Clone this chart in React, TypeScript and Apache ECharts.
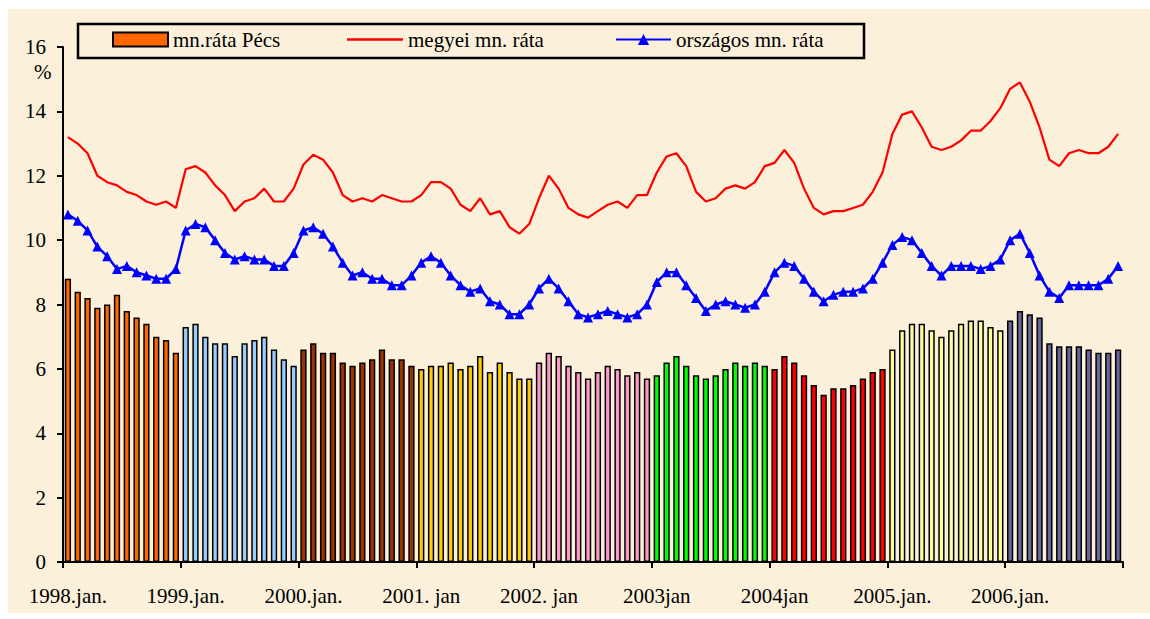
import React, { useEffect, useRef } from "react";
import * as echarts from "echarts";

const years = [1998, 1999, 2000, 2001, 2002, 2003, 2004, 2005, 2006];
const monthNames = ["jan", "febr", "márc", "ápr", "máj", "jún", "júl", "aug", "szept", "okt", "nov", "dec"];
const categories = years.flatMap((y) => monthNames.map((m) => `${y}.${m}`));

const yearTickLabels = [
  "1998.jan.", "1999.jan.", "2000.jan.", "2001. jan", "2002. jan",
  "2003jan", "2004jan", "2005.jan.", "2006.jan.",
];

const yearColors = [
  "#FF6600", "#99CCFF", "#993300", "#FFCC00", "#FF99CC",
  "#00FF00", "#FF0000", "#FFFF99", "#666699",
];

// mn.ráta Pécs
const pecs = [
  8.8, 8.4, 8.2, 7.9, 8.0, 8.3, 7.8, 7.6, 7.4, 7.0, 6.9, 6.5,
  7.3, 7.4, 7.0, 6.8, 6.8, 6.4, 6.8, 6.9, 7.0, 6.6, 6.3, 6.1,
  6.6, 6.8, 6.5, 6.5, 6.2, 6.1, 6.2, 6.3, 6.6, 6.3, 6.3, 6.1,
  6.0, 6.1, 6.1, 6.2, 6.0, 6.1, 6.4, 5.9, 6.2, 5.9, 5.7, 5.7,
  6.2, 6.5, 6.4, 6.1, 5.9, 5.7, 5.9, 6.1, 6.0, 5.8, 5.9, 5.7,
  5.8, 6.2, 6.4, 6.1, 5.8, 5.7, 5.8, 6.0, 6.2, 6.1, 6.2, 6.1,
  6.0, 6.4, 6.2, 5.8, 5.5, 5.2, 5.4, 5.4, 5.5, 5.7, 5.9, 6.0,
  6.6, 7.2, 7.4, 7.4, 7.2, 7.0, 7.2, 7.4, 7.5, 7.5, 7.3, 7.2,
  7.5, 7.8, 7.7, 7.6, 6.8, 6.7, 6.7, 6.7, 6.6, 6.5, 6.5, 6.6,
];

// megyei mn. ráta
const megyei = [
  13.2, 13.0, 12.7, 12.0, 11.8, 11.7, 11.5, 11.4, 11.2, 11.1, 11.2, 11.0,
  12.2, 12.3, 12.1, 11.7, 11.4, 10.9, 11.2, 11.3, 11.6, 11.2, 11.2, 11.6,
  12.35, 12.65, 12.5, 12.1, 11.4, 11.2, 11.3, 11.2, 11.4, 11.3, 11.2, 11.2,
  11.4, 11.8, 11.8, 11.6, 11.1, 10.9, 11.3, 10.8, 10.9, 10.4, 10.2, 10.5,
  11.3, 12.0, 11.6, 11.0, 10.8, 10.7, 10.9, 11.1, 11.2, 11.0, 11.4, 11.4,
  12.1, 12.6, 12.7, 12.3, 11.5, 11.2, 11.3, 11.6, 11.7, 11.6, 11.8, 12.3,
  12.4, 12.8, 12.4, 11.6, 11.0, 10.8, 10.9, 10.9, 11.0, 11.1, 11.5, 12.1,
  13.3, 13.9, 14.0, 13.5, 12.9, 12.8, 12.9, 13.1, 13.4, 13.4, 13.7, 14.1,
  14.7, 14.9, 14.3, 13.5, 12.5, 12.3, 12.7, 12.8, 12.7, 12.7, 12.9, 13.3,
];

// országos mn. ráta
const orszagos = [
  10.8, 10.6, 10.3, 9.8, 9.5, 9.1, 9.2, 9.0, 8.9, 8.8, 8.8, 9.1,
  10.3, 10.5, 10.4, 10.0, 9.6, 9.4, 9.5, 9.4, 9.4, 9.2, 9.2, 9.6,
  10.3, 10.4, 10.2, 9.8, 9.3, 8.9, 9.0, 8.8, 8.8, 8.6, 8.6, 8.9,
  9.3, 9.5, 9.3, 8.9, 8.6, 8.4, 8.5, 8.1, 8.0, 7.7, 7.7, 8.0,
  8.5, 8.8, 8.5, 8.1, 7.7, 7.6, 7.7, 7.8, 7.7, 7.6, 7.7, 8.0,
  8.7, 9.0, 9.0, 8.6, 8.2, 7.8, 8.0, 8.1, 8.0, 7.9, 8.0, 8.4,
  9.0, 9.3, 9.2, 8.8, 8.4, 8.1, 8.3, 8.4, 8.4, 8.5, 8.8, 9.3,
  9.85, 10.1, 10.0, 9.6, 9.2, 8.9, 9.2, 9.2, 9.2, 9.1, 9.2, 9.4,
  10.0, 10.2, 9.6, 8.9, 8.4, 8.2, 8.6, 8.6, 8.6, 8.6, 8.8, 9.2,
];

const seriesNames = ["mn.ráta Pécs", "megyei mn. ráta", "országos mn. ráta"];

const FONT = "Liberation Serif, Times New Roman, serif";

export default function App() {
  const ref = useRef<HTMLDivElement>(null);

  useEffect(() => {
    document.body.style.margin = "0";
    if (!ref.current) return;
    const chart = echarts.init(ref.current, null, { renderer: "svg" });
    const legendText = { fontFamily: FONT, fontSize: 21, color: "#000" };
    chart.setOption({
      animation: false,
      backgroundColor: "#ffffff",
      textStyle: { fontFamily: FONT },
      graphic: [
        {
          type: "rect",
          z: -10,
          shape: { x: 8, y: 9, width: 1142, height: 604 },
          style: { fill: "#FBF0DA" },
          silent: true,
        },
        {
          type: "rect",
          z: 1,
          shape: { x: 78, y: 24, width: 786, height: 34 },
          style: { fill: "rgba(0,0,0,0)", stroke: "#000", lineWidth: 2.5 },
          silent: true,
        },
        {
          type: "text",
          x: 34,
          y: 61,
          style: { text: "%", fontFamily: FONT, fontSize: 21, fill: "#000" },
          silent: true,
        },
        {
          type: "line",
          z: 5,
          shape: { x1: 1123, y1: 562, x2: 1123, y2: 568 },
          style: { stroke: "#000", lineWidth: 2 },
          silent: true,
        },
      ],
      legend: [
        {
          data: [seriesNames[0]],
          left: 112,
          top: 29,
          padding: 0,
          itemWidth: 55,
          itemHeight: 14,
          icon: "rect",
          itemStyle: { borderColor: "#000", borderWidth: 2 },
          textStyle: legendText,
          selectedMode: false,
        },
        {
          data: [seriesNames[1]],
          left: 347,
          top: 29,
          padding: 0,
          itemWidth: 56,
          itemHeight: 2.5,
          icon: "rect",
          itemStyle: { borderWidth: 0 },
          textStyle: legendText,
          selectedMode: false,
        },
        {
          data: [seriesNames[2]],
          left: 615,
          top: 29,
          padding: 0,
          itemWidth: 55,
          itemHeight: 14,
          textStyle: legendText,
          selectedMode: false,
        },
      ],
      grid: { left: 63, right: 27, top: 47, bottom: 57 },
      xAxis: {
        type: "category",
        data: categories,
        boundaryGap: true,
        axisLine: { show: true, lineStyle: { color: "#000", width: 2 } },
        axisTick: {
          show: true,
          length: 6,
          interval: (i: number) => i % 12 === 0,
          lineStyle: { color: "#000", width: 2 },
        },
        axisLabel: {
          interval: (i: number) => i % 12 === 0,
          formatter: (_v: string, i: number) => (i % 12 === 0 ? yearTickLabels[i / 12] : ""),
          fontFamily: FONT,
          fontSize: 21,
          color: "#000",
          margin: 23,
        },
        splitLine: { show: false },
      },
      yAxis: {
        type: "value",
        min: 0,
        max: 16,
        interval: 2,
        axisLine: { show: true, lineStyle: { color: "#000", width: 2 } },
        axisTick: { show: true, length: 6, lineStyle: { color: "#000", width: 2 } },
        axisLabel: { fontFamily: FONT, fontSize: 21, color: "#000", margin: 17 },
        splitLine: { show: false },
      },
      series: [
        {
          name: seriesNames[0],
          type: "bar",
          barWidth: "64%",
          itemStyle: { color: "#FF6600", borderColor: "#000", borderWidth: 1.5 },
          data: pecs.map((v, i) => ({
            value: v,
            itemStyle: { color: yearColors[Math.floor(i / 12)] },
          })),
          z: 2,
        },
        {
          name: seriesNames[1],
          type: "line",
          data: megyei,
          symbol: "none",
          lineStyle: { color: "#FF0000", width: 2.2 },
          itemStyle: { color: "#FF0000" },
          z: 3,
        },
        {
          name: seriesNames[2],
          type: "line",
          data: orszagos,
          symbol: "triangle",
          symbolSize: 10,
          showAllSymbol: true,
          lineStyle: { color: "#0000FF", width: 2.5 },
          itemStyle: { color: "#0000FF" },
          z: 4,
        },
      ],
    });
    return () => chart.dispose();
  }, []);

  return <div ref={ref} style={{ width: 1150, height: 619 }} />;
}
